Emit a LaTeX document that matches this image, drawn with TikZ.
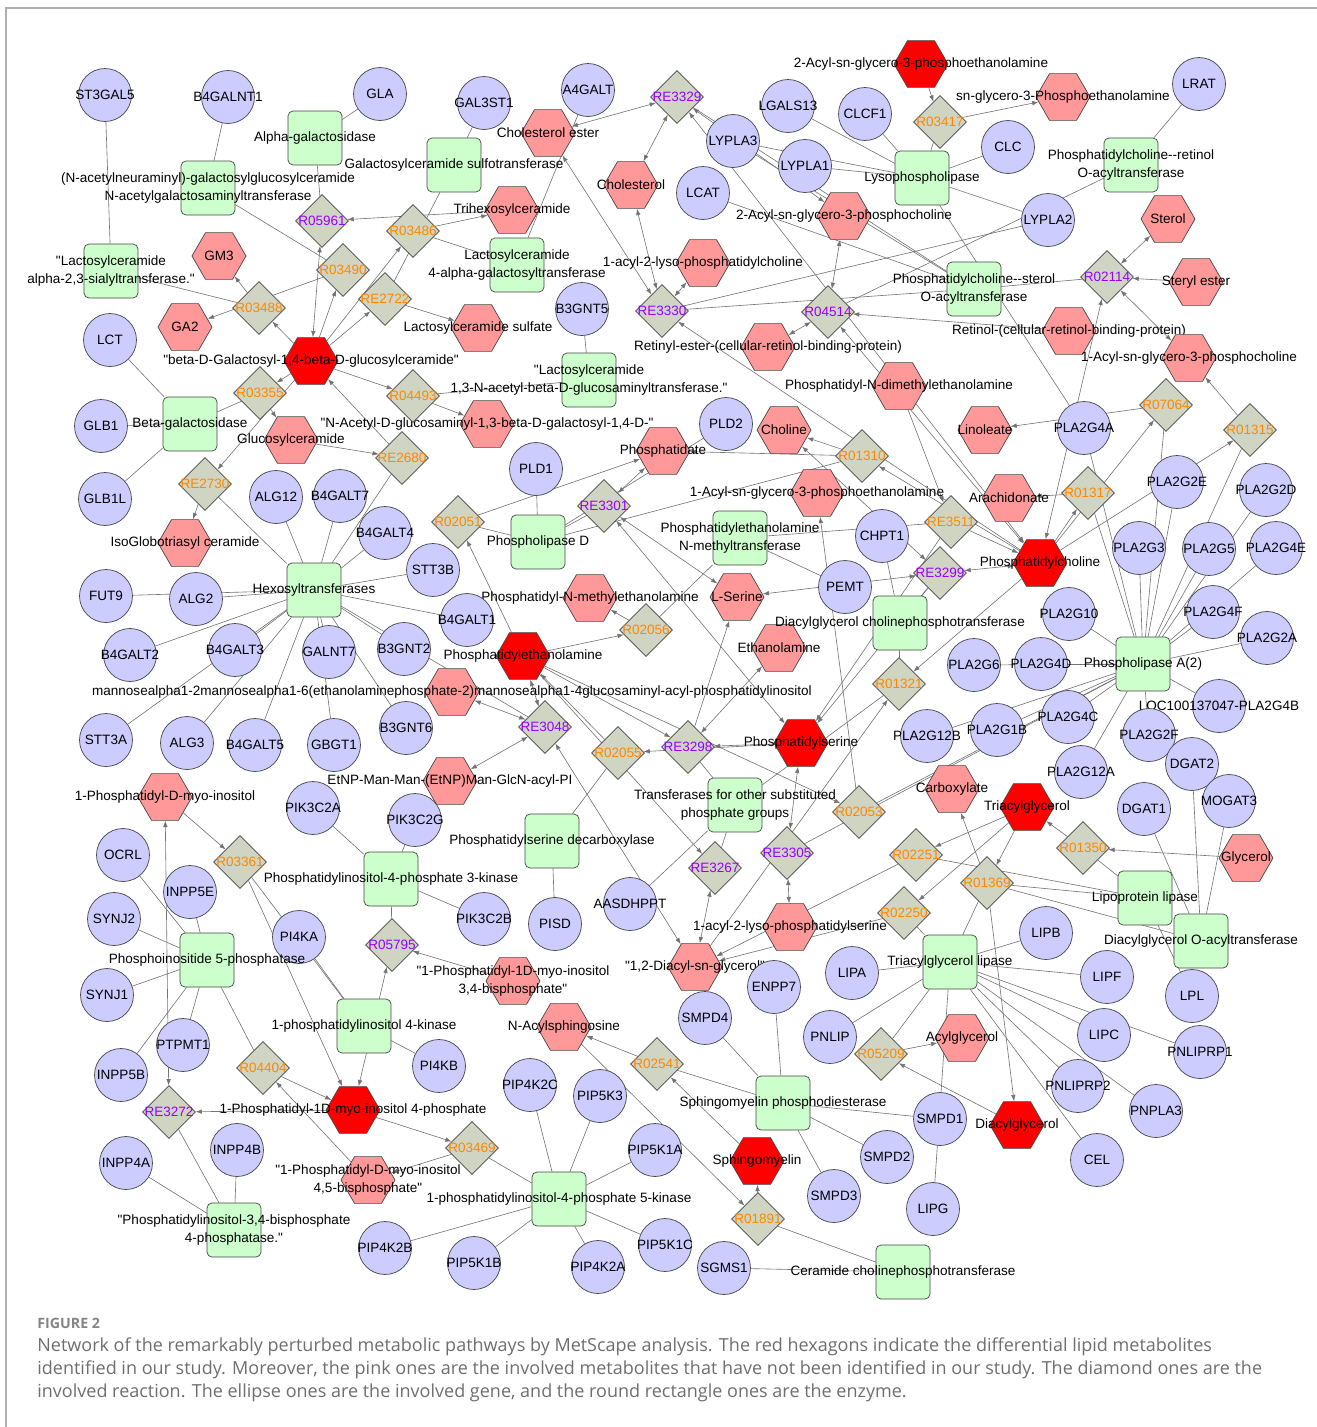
\documentclass[tikz,border=0pt]{standalone}
\usepackage{fontspec}
\newfontfamily\netfamily{Liberation Sans}
\newfontfamily\capfont{Open Sans}
\usetikzlibrary{shapes.geometric, arrows.meta, backgrounds}

\definecolor{genefill}{RGB}{204,204,255}
\definecolor{enzfill}{RGB}{204,255,204}
\definecolor{metfill}{RGB}{255,153,153}
\definecolor{hitred}{RGB}{255,0,0}
\definecolor{rxnfill}{RGB}{208,212,194}
\definecolor{bord}{RGB}{70,70,70}
\definecolor{linkgray}{RGB}{115,115,115}
\definecolor{rxorange}{RGB}{255,136,0}
\definecolor{rxviolet}{RGB}{153,0,255}
\definecolor{capgray}{RGB}{110,110,110}
\definecolor{framegray}{RGB}{175,175,175}

\newcommand\netfont{\netfamily\fontsize{7.7}{10.4}\selectfont}

\tikzset{
  every label/.style={font=\netfont, inner sep=0pt, align=center},
  gene/.style={circle, draw=bord, fill=genefill, line width=0.4pt, minimum size=1.06cm, inner sep=0pt, label={center:{#1}}},
  enz/.style={rectangle, rounded corners=0.1cm, draw=bord, fill=enzfill, line width=0.4pt, minimum size=1.08cm, inner sep=0pt, label={center:{#1}}},
  met/.style={regular polygon, regular polygon sides=6, draw=bord, fill=metfill, line width=0.4pt, minimum size=1.08cm, inner sep=0pt, label={center:{#1}}},
  hit/.style={met={#1}, fill=hitred},
  rxn/.style={diamond, draw=bord, fill=rxnfill, line width=0.4pt, minimum width=1.06cm, minimum height=1.06cm, inner sep=0pt},
  rxo/.style={rxn, label={[text=rxorange]center:#1}},
  rxv/.style={rxn, label={[text=rxviolet]center:#1}},
  link/.style={draw=linkgray, line width=0.35pt},
  flow/.style={link, -{Latex[length=3.6pt,width=2.6pt]}},
  both/.style={link, {Latex[length=3.6pt,width=2.6pt]}-{Latex[length=3.6pt,width=2.6pt]}},
}

\begin{document}
\begin{tikzpicture}[x=0.02cm, y=-0.02cm]
\useasboundingbox (0,0) rectangle (1317,1427);
\draw[framegray, line width=0.8pt] (6,1427) -- (6,8) -- (1317,8);

% metabolites
\node[hit={2-Acyl-sn-glycero-3-phosphoethanolamine}] (acylpe2) at (921,64) {};
\node[met={sn-glycero-3-Phosphoethanolamine}] (gpe) at (1063,97) {};
\node[met={Cholesterol ester}] (cholest) at (548,133) {};
\node[met={Cholesterol}] (chol) at (631,185) {};
\node[met={Trihexosylceramide}] (trihex) at (512,210) {};
\node[met={2-Acyl-sn-glycero-3-phosphocholine}] (acylpc2) at (844,216) {};
\node[met={Sterol}] (sterol) at (1168,219) {};
\node[met={GM3}] (gm3) at (219,256) {};
\node[met={1-acyl-2-lyso-phosphatidylcholine}] (lysopc) at (703,263) {};
\node[met={Lactosylceramide sulfate}] (lacsulf) at (478,328) {};
\node[met={GA2}] (ga2) at (185,327) {};
\node[met={Steryl ester}] (steryl) at (1196,282) {};
\node[met={Retinol-(cellular-retinol-binding-protein)}] (retinol) at (1069,331) {};
\node[met={Retinyl-ester-(cellular-retinol-binding-protein)}] (retinyl) at (768,347) {};
\node[met={1-Acyl-sn-glycero-3-phosphocholine}] (acylpc1) at (1189,358) {};
\node[hit={"beta-D-Galactosyl-1,4-beta-D-glucosylceramide"}] (lacc) at (311,361) {};
\node[met={Phosphatidyl-N-dimethylethanolamine}] (pdme) at (899,386) {};
\node[met={"N-Acetyl-D-glucosaminyl-1,3-beta-D-galactosyl-1,4-D-"}] (glcnac) at (487,424) {};
\node[met={Glucosylceramide}] (glccer) at (291,440) {};
\node[met={Linoleate}] (linol) at (985,430) {};
\node[met={Choline}] (choline) at (784,430) {};
\node[met={Phosphatidate}] (pa) at (663,451) {};
\node[met={1-Acyl-sn-glycero-3-phosphoethanolamine}] (acylpe1) at (817,493) {};
\node[met={Arachidonate}] (arach) at (1009,498) {};
\node[met={IsoGlobotriasyl ceramide}] (isogb3) at (185,543) {};
\node[hit={Phosphatidylcholine}] (pc) at (1040,563) {};
\node[met={Phosphatidyl-N-methylethanolamine}] (pme) at (590,598) {};
\node[met={L-Serine}] (serine) at (737,597) {};
\node[met={Ethanolamine}] (etn) at (779,648) {};
\node[hit={Phosphatidylethanolamine}] (pe) at (523,656) {};
\node[met={mannosealpha1-2mannosealpha1-6(ethanolaminephosphate-2)mannosealpha1-4glucosaminyl-acyl-phosphatidylinositol}] (gpi) at (452,692) {};
\node[hit={Phosphatidylserine}] (ps) at (801,743) {};
\node[met={EtNP-Man-Man-(EtNP)Man-GlcN-acyl-PI}] (etnp) at (450,781) {};
\node[met={1-Phosphatidyl-D-myo-inositol}] (pi) at (165,797) {};
\node[met={Carboxylate}] (carbox) at (952,789) {};
\node[hit={Triacylglycerol}] (tag) at (1027,807) {};
\node[met={Glycerol}] (glycerol) at (1246,858) {};
\node[met={1-acyl-2-lyso-phosphatidylserine}] (lysops) at (790,927) {};
\node[met={"1,2-Diacyl-sn-glycerol"}] (dag) at (695,967) {};
\node[met={"1-Phosphatidyl-1D-myo-inositol\\3,4-bisphosphate"}] (pip34) at (513,981) {};
\node[met={N-Acylsphingosine}] (cer) at (564,1027) {};
\node[met={Acylglycerol}] (acylgly) at (962,1038) {};
\node[hit={1-Phosphatidyl-1D-myo-inositol 4-phosphate}] (pi4ph) at (353,1110) {};
\node[hit={Sphingomyelin}] (sm) at (757,1161) {};
\node[hit={Diacylglycerol}] (dg) at (1017,1125) {};
\node[met={"1-Phosphatidyl-D-myo-inositol\\4,5-bisphosphate"}] (pip45) at (368,1180) {};

% genes
\node[gene=ST3GAL5] (st3gal5) at (105,95) {};
\node[gene=B4GALNT1] (b4galnt1) at (228,97) {};
\node[gene=GLA] (gla) at (380,94) {};
\node[gene=GAL3ST1] (gal3st1) at (484,103) {};
\node[gene=A4GALT] (a4galt) at (588,90) {};
\node[gene=LGALS13] (lgals13) at (788,106) {};
\node[gene=CLCF1] (clcf1) at (865,114) {};
\node[gene=LYPLA3] (lypla3) at (733,141) {};
\node[gene=LYPLA1] (lypla1) at (805,166) {};
\node[gene=LCAT] (lcat) at (703,193) {};
\node[gene=CLC] (clc) at (1008,147) {};
\node[gene=LRAT] (lrat) at (1199,84) {};
\node[gene=LYPLA2] (lypla2) at (1048,220) {};
\node[gene=LCT] (lct) at (110,340) {};
\node[gene=B3GNT5] (b3gnt5) at (582,309) {};
\node[gene=GLB1] (glb1) at (101,426) {};
\node[gene=GLB1L] (glb1l) at (105,499) {};
\node[gene=PLD2] (pld2) at (726,424) {};
\node[gene=PLD1] (pld1) at (536,469) {};
\node[gene=ALG12] (alg12) at (276,497) {};
\node[gene=B4GALT7] (b4galt7) at (340,496) {};
\node[gene=B4GALT4] (b4galt4) at (385,533) {};
\node[gene=STT3B] (stt3b) at (433,570) {};
\node[gene=FUT9] (fut9) at (106,596) {};
\node[gene=ALG2] (alg2) at (196,599) {};
\node[gene=B4GALT1] (b4galt1) at (467,620) {};
\node[gene=B4GALT2] (b4galt2) at (130,655) {};
\node[gene=B4GALT3] (b4galt3) at (235,650) {};
\node[gene=GALNT7] (galnt7) at (329,652) {};
\node[gene=B3GNT2] (b3gnt2) at (404,649) {};
\node[gene=CHPT1] (chpt1) at (882,536) {};
\node[gene=PEMT] (pemt) at (845,587) {};
\node[gene=PLA2G4A] (pla2g4a) at (1084,428) {};
\node[gene=PLA2G2E] (pla2g2e) at (1177,482) {};
\node[gene=PLA2G2D] (pla2g2d) at (1266,490) {};
\node[gene=PLA2G3] (pla2g3) at (1139,548) {};
\node[gene=PLA2G5] (pla2g5) at (1209,549) {};
\node[gene=PLA2G4E] (pla2g4e) at (1276,548) {};
\node[gene=PLA2G10] (pla2g10) at (1069,614) {};
\node[gene=PLA2G4F] (pla2g4f) at (1213,612) {};
\node[gene=PLA2G2A] (pla2g2a) at (1267,638) {};
\node[gene=PLA2G6] (pla2g6) at (974,665) {};
\node[gene=PLA2G4D] (pla2g4d) at (1041,664) {};
\node[gene=LOC100137047-PLA2G4B] (pla2g4b) at (1219,706) {};
\node[gene=PLA2G12B] (pla2g12b) at (927,736) {};
\node[gene=PLA2G1B] (pla2g1b) at (997,730) {};
\node[gene=PLA2G4C] (pla2g4c) at (1068,717) {};
\node[gene=PLA2G2F] (pla2g2f) at (1149,735) {};
\node[gene=PLA2G12A] (pla2g12a) at (1081,772) {};
\node[gene=DGAT2] (dgat2) at (1192,764) {};
\node[gene=DGAT1] (dgat1) at (1144,809) {};
\node[gene=MOGAT3] (mogat3) at (1229,801) {};
\node[gene=STT3A] (stt3a) at (106,740) {};
\node[gene=ALG3] (alg3) at (187,743) {};
\node[gene=B4GALT5] (b4galt5) at (255,745) {};
\node[gene=GBGT1] (gbgt1) at (334,745) {};
\node[gene=B3GNT6] (b3gnt6) at (406,728) {};
\node[gene=PIK3C2A] (pik3c2a) at (313,808) {};
\node[gene=PIK3C2G] (pik3c2g) at (415,820) {};
\node[gene=OCRL] (ocrl) at (123,855) {};
\node[gene=INPP5E] (inpp5e) at (190,892) {};
\node[gene=SYNJ2] (synj2) at (114,919) {};
\node[gene=SYNJ1] (synj1) at (107,995) {};
\node[gene=PI4KA] (pi4ka) at (299,937) {};
\node[gene=PIK3C2B] (pik3c2b) at (484,919) {};
\node[gene=PISD] (pisd) at (555,924) {};
\node[gene=AASDHPPT] (aasdhppt) at (630,904) {};
\node[gene=LIPB] (lipb) at (1046,933) {};
\node[gene=LIPA] (lipa) at (852,973) {};
\node[gene=LIPF] (lipf) at (1107,977) {};
\node[gene=LPL] (lpl) at (1192,996) {};
\node[gene=ENPP7] (enpp7) at (774,987) {};
\node[gene=SMPD4] (smpd4) at (705,1018) {};
\node[gene=PNLIP] (pnlip) at (830,1037) {};
\node[gene=LIPC] (lipc) at (1104,1035) {};
\node[gene=PNLIPRP1] (pnliprp1) at (1200,1052) {};
\node[gene=PTPMT1] (ptpmt1) at (183,1045) {};
\node[gene=INPP5B] (inpp5b) at (121,1075) {};
\node[gene=PI4KB] (pi4kb) at (439,1066) {};
\node[gene=PIP4K2C] (pip4k2c) at (530,1085) {};
\node[gene=PIP5K3] (pip5k3) at (600,1096) {};
\node[gene=PNLIPRP2] (pnliprp2) at (1078,1086) {};
\node[gene=PNPLA3] (pnpla3) at (1156,1111) {};
\node[gene=SMPD1] (smpd1) at (940,1119) {};
\node[gene=PIP5K1A] (pip5k1a) at (655,1150) {};
\node[gene=SMPD2] (smpd2) at (887,1157) {};
\node[gene=INPP4B] (inpp4b) at (237,1150) {};
\node[gene=INPP4A] (inpp4a) at (126,1163) {};
\node[gene=CEL] (cel) at (1097,1160) {};
\node[gene=SMPD3] (smpd3) at (834,1196) {};
\node[gene=LIPG] (lipg) at (933,1209) {};
\node[gene=PIP4K2B] (pip4k2b) at (385,1248) {};
\node[gene=PIP5K1B] (pip5k1b) at (474,1263) {};
\node[gene=PIP4K2A] (pip4k2a) at (598,1267) {};
\node[gene=PIP5K1C] (pip5k1c) at (665,1245) {};
\node[gene=SGMS1] (sgms1) at (724,1268) {};

% enzymes
\node[enz={Alpha-galactosidase}] (agal) at (315,138) {};
\node[enz={Galactosylceramide sulfotransferase}] (galsulf) at (454,165) {};
\node[enz={(N-acetylneuraminyl)-galactosylglucosylceramide\\N-acetylgalactosaminyltransferase}] (galnact) at (208,188) {};
\node[enz={"Lactosylceramide\\alpha-2,3-sialyltransferase."}] (siatr) at (111,271) {};
\node[enz={Lactosylceramide\\4-alpha-galactosyltransferase}] (lacgal) at (517,265) {};
\node[enz={Lysophospholipase}] (lysopl) at (922,178) {};
\node[enz={Phosphatidylcholine--retinol\\O-acyltransferase}] (pcrat) at (1131,165) {};
\node[enz={Phosphatidylcholine--sterol\\O-acyltransferase}] (pcsat) at (974,289) {};
\node[enz={"Lactosylceramide\\1,3-N-acetyl-beta-D-glucosaminyltransferase."}] (lacglc) at (589,380) {};
\node[enz={Beta-galactosidase}] (bgal) at (190,424) {};
\node[enz={Phospholipase D}] (pld) at (538,542) {};
\node[enz={Phosphatidylethanolamine\\N-methyltransferase}] (pemtase) at (740,538) {};
\node[enz={Hexosyltransferases}] (hexo) at (314,590) {};
\node[enz={Diacylglycerol cholinephosphotransferase}] (dgcpt) at (900,623) {};
\node[enz={Phospholipase A(2)}] (pla) at (1143,664) {};
\node[enz={Transferases for other substituted\\phosphate groups}] (trans) at (735,805) {};
\node[enz={Phosphatidylserine decarboxylase}] (psd) at (552,841) {};
\node[enz={Phosphatidylinositol-4-phosphate 3-kinase}] (pi3k) at (391,879) {};
\node[enz={Lipoprotein lipase}] (lpla) at (1145,898) {};
\node[enz={Diacylglycerol O-acyltransferase}] (dgat) at (1201,941) {};
\node[enz={Phosphoinositide 5-phosphatase}] (pi5p) at (207,960) {};
\node[enz={Triacylglycerol lipase}] (tgl) at (950,962) {};
\node[enz={1-phosphatidylinositol 4-kinase}] (pi4k) at (364,1026) {};
\node[enz={Sphingomyelin phosphodiesterase}] (smase) at (783,1103) {};
\node[enz={1-phosphatidylinositol-4-phosphate 5-kinase}] (pip5k) at (559,1199) {};
\node[enz={"Phosphatidylinositol-3,4-bisphosphate\\4-phosphatase."}] (pipase) at (234,1230) {};
\node[enz={Ceramide cholinephosphotransferase}] (cerpt) at (903,1272) {};

% reactions
\node[rxv=RE3329] (re3329) at (677,97) {};
\node[rxo=R03417] (r03417) at (940,122) {};
\node[rxv=R05961] (r05961) at (322,221) {};
\node[rxo=R03486] (r03486) at (413,231) {};
\node[rxo=R03490] (r03490) at (343,270) {};
\node[rxo=RE2722] (re2722) at (385,299) {};
\node[rxo=R03488] (r03488) at (259,308) {};
\node[rxv=RE3330] (re3330) at (662,311) {};
\node[rxv=R04514] (r04514) at (828,312) {};
\node[rxv=R02114] (r02114) at (1107,277) {};
\node[rxo=R03355] (r03355) at (260,393) {};
\node[rxo=R04493] (r04493) at (413,396) {};
\node[rxo=RE2680] (re2680) at (402,458) {};
\node[rxo=RE2730] (re2730) at (205,484) {};
\node[rxo=R07064] (r07064) at (1166,405) {};
\node[rxo=R01315] (r01315) at (1250,430) {};
\node[rxo=R01310] (r01310) at (862,456) {};
\node[rxo=R01317] (r01317) at (1088,493) {};
\node[rxo=RE3511] (re3511) at (951,522) {};
\node[rxo=R02051] (r02051) at (458,522) {};
\node[rxv=RE3301] (re3301) at (604,506) {};
\node[rxv=RE3299] (re3299) at (940,573) {};
\node[rxo=R02056] (r02056) at (646,630) {};
\node[rxo=R01321] (r01321) at (899,684) {};
\node[rxv=RE3048] (re3048) at (545,727) {};
\node[rxo=R02055] (r02055) at (618,753) {};
\node[rxv=RE3298] (re3298) at (688,747) {};
\node[rxo=R02053] (r02053) at (859,812) {};
\node[rxo=R03361] (r03361) at (240,862) {};
\node[rxv=RE3305] (re3305) at (787,853) {};
\node[rxv=RE3267] (re3267) at (715,868) {};
\node[rxo=R02251] (r02251) at (916,855) {};
\node[rxo=R01350] (r01350) at (1083,848) {};
\node[rxo=R01369] (r01369) at (987,883) {};
\node[rxo=R02250] (r02250) at (904,913) {};
\node[rxv=R05795] (r05795) at (392,945) {};
\node[rxo=R05209] (r05209) at (881,1054) {};
\node[rxo=R02541] (r02541) at (657,1064) {};
\node[rxo=R04404] (r04404) at (263,1068) {};
\node[rxv=RE3272] (re3272) at (169,1112) {};
\node[rxo=R03469] (r03469) at (472,1148) {};
\node[rxo=R01891] (r01891) at (758,1219) {};

\begin{scope}[on background layer]
% genes to enzymes
\draw[link] (st3gal5) -- (siatr);
\draw[link] (b4galnt1) -- (galnact);
\draw[link] (gla) -- (agal);
\draw[link] (gal3st1) -- (galsulf);
\draw[link] (a4galt) -- (lacgal);
\draw[link] (b3gnt5) -- (lacglc);
\foreach \g in {lct,glb1,glb1l} \draw[link] (\g) -- (bgal);
\foreach \g in {lgals13,clcf1,clc,lypla1,lypla3,lypla2,pla2g4a} \draw[link] (\g) -- (lysopl);
\draw[link] (lypla3) -- (pcsat);
\draw[link] (lcat) -- (pcsat);
\draw[link] (lrat) -- (pcrat);
\draw[link] (lypla2) -- (re3330);
\foreach \g in {pld1,pld2} \draw[link] (\g) -- (pld);
\foreach \g in {alg12,b4galt7,b4galt4,stt3b,fut9,alg2,b4galt1,b4galt2,b4galt3,galnt7,b3gnt2,stt3a,alg3,b4galt5,gbgt1,b3gnt6} \draw[link] (\g) -- (hexo);
\draw[link] (pemt) -- (pemtase);
\draw[link] (chpt1) -- (dgcpt);
\foreach \g in {pla2g4a,pla2g2e,pla2g2d,pla2g3,pla2g5,pla2g4e,pla2g10,pla2g4f,pla2g2a,pla2g6,pla2g4d,pla2g4b,pla2g12b,pla2g1b,pla2g4c,pla2g2f,pla2g12a} \draw[link] (\g) -- (pla);
\foreach \g in {dgat1,dgat2,mogat3} \draw[link] (\g) -- (dgat);
\draw[link] (lpl) -- (lpla);
\foreach \g in {lipb,lipf,lipa,pnlip,lipc,pnliprp1,pnliprp2,pnpla3,cel,lipg} \draw[link] (\g) -- (tgl);
\foreach \g in {smpd4,enpp7,smpd1,smpd2,smpd3} \draw[link] (\g) -- (smase);
\draw[link] (sgms1) -- (cerpt);
\foreach \g in {pik3c2a,pik3c2g,pik3c2b} \draw[link] (\g) -- (pi3k);
\foreach \g in {pi4ka,pi4kb} \draw[link] (\g) -- (pi4k);
\foreach \g in {ocrl,inpp5e,synj2,synj1,inpp5b,ptpmt1} \draw[link] (\g) -- (pi5p);
\foreach \g in {inpp4a,inpp4b} \draw[link] (\g) -- (pipase);
\foreach \g in {pip4k2c,pip5k3,pip5k1a,pip5k1b,pip4k2a,pip5k1c,pip4k2b} \draw[link] (\g) -- (pip5k);
\draw[link] (pisd) -- (psd);
\draw[link] (aasdhppt) -- (trans);

% enzymes to reactions
\draw[link] (agal) -- (r05961);
\draw[link] (galnact) -- (r03490);
\draw[link] (siatr) -- (r03488);
\draw[link] (galsulf) -- (re2722);
\draw[link] (lacgal) -- (r03486);
\draw[link] (lacglc) -- (r04493);
\draw[link] (bgal) -- (r03355);
\draw[link] (hexo) -- (re2680);
\draw[link] (hexo) -- (re2730);
\draw[link] (hexo) -- (re3048);
\draw[link] (lysopl) -- (r03417);
\draw[link] (pcrat) -- (r04514);
\draw[link] (pcsat) -- (re3329);
\draw[link] (pcsat) -- (re3330);
\draw[link] (pcsat) -- (r02114);
\draw[link] (pld) -- (r02051);
\draw[link] (pld) -- (re3301);
\draw[link] (pld) -- (r01310);
\draw[link] (pemtase) -- (r02056);
\draw[link] (pemtase) -- (re3511);
\draw[link] (dgcpt) -- (re3299);
\draw[link] (dgcpt) -- (r01321);
\foreach \r in {r07064,r01315,r01317,r02053,re3305} \draw[link] (pla) -- (\r);
\draw[link] (trans) -- (re3298);
\draw[link] (trans) -- (re3267);
\draw[link] (trans) -- (r01321);
\draw[link] (psd) -- (r02055);
\draw[link] (lpla) -- (r01350);
\draw[link] (lpla) -- (r01369);
\draw[link] (lpla) -- (r02251);
\draw[link] (dgat) -- (r01369);
\draw[link] (tgl) -- (r01369);
\draw[link] (tgl) -- (r02250);
\draw[link] (tgl) -- (r05209);
\draw[link] (smase) -- (r02541);
\draw[link] (cerpt) -- (r01891);
\draw[link] (pi3k) -- (r05795);
\draw[link] (pi4k) -- (r03361);
\draw[link] (pi5p) -- (r04404);
\draw[link] (pipase) -- (re3272);
\draw[link] (pip5k) -- (r03469);

% glycosphingolipids
\draw[flow] (trihex) -- (r05961);
\draw[both] (lacc) -- (r05961);
\draw[flow] (lacc) -- (r03486);
\draw[flow] (r03486) -- (trihex);
\draw[flow] (lacc) -- (r03490);
\draw[flow] (r03490) -- (ga2);
\draw[flow] (lacc) -- (r03488);
\draw[flow] (r03488) -- (gm3);
\draw[flow] (lacc) -- (re2722);
\draw[flow] (re2722) -- (lacsulf);
\draw[flow] (lacc) -- (r03355);
\draw[flow] (r03355) -- (glccer);
\draw[flow] (lacc) -- (r04493);
\draw[flow] (r04493) -- (glcnac);
\draw[flow] (glccer) -- (re2680);
\draw[flow] (re2680) -- (lacc);
\draw[flow] (lacc) -- (re2730);
\draw[flow] (re2730) -- (isogb3);

% cholesterol and retinol
\draw[both] (cholest) -- (re3329);
\draw[both] (chol) -- (re3329);
\draw[both] (chol) -- (re3330);
\draw[both] (cholest) -- (re3330);
\draw[both] (lysopc) -- (re3330);
\draw[both] (pc) -- (re3329);
\draw[both] (re3329) -- (acylpc2);
\draw[flow] (pc) -- (re3330);
\draw[flow] (acylpe2) -- (r03417);
\draw[flow] (r03417) -- (gpe);
\draw[flow] (retinol) -- (r04514);
\draw[both] (r04514) -- (retinyl);
\draw[both] (r04514) -- (acylpc2);
\draw[both] (pc) -- (r04514);
\draw[both] (sterol) -- (r02114);
\draw[flow] (steryl) -- (r02114);
\draw[both] (pc) -- (r02114);
\draw[both] (r02114) -- (acylpc1);

% phosphatidylcholine
\draw[flow] (r07064) -- (linol);
\draw[flow] (pc) -- (r07064);
\draw[flow] (r01315) -- (acylpc1);
\draw[flow] (pc) -- (r01315);
\draw[flow] (r01317) -- (arach);
\draw[flow] (pc) -- (r01317);
\draw[flow] (pe) -- (r02051);
\draw[flow] (r02051) -- (pa);
\draw[flow] (r01310) -- (pa);
\draw[flow] (r01310) -- (choline);
\draw[flow] (pc) -- (r01310);
\draw[both] (re3301) -- (pa);
\draw[both] (re3301) -- (serine);
\draw[both] (re3301) -- (ps);
\draw[flow] (pe) -- (r02056);
\draw[flow] (r02056) -- (pme);
\draw[flow] (pdme) -- (re3511);
\draw[flow] (re3511) -- (pc);
\draw[both] (pc) -- (re3299);
\draw[both] (choline) -- (re3299);
\draw[both] (re3299) -- (serine);
\draw[flow] (re3299) -- (ps);
\draw[flow] (re3511) -- (ps);
\draw[flow] (pc) -- (r01321);
\draw[flow] (dag) -- (r01321);

% ethanolamine and serine
\draw[both] (gpi) -- (re3048);
\draw[both] (re3048) -- (etnp);
\draw[both] (pe) -- (re3048);
\draw[both] (dag) -- (re3048);
\draw[flow] (r02055) -- (pe);
\draw[flow] (ps) -- (r02055);
\draw[flow] (ps) -- (re3298);
\draw[flow] (pe) -- (re3298);
\draw[flow] (re3298) -- (serine);
\draw[both] (etn) -- (re3298);
\draw[flow] (pe) -- (r02053);
\draw[flow] (r02053) -- (acylpe1);
\draw[flow] (pe) -- (re3267);
\draw[both] (re3267) -- (dag);
\draw[both] (ps) -- (re3305);
\draw[both] (re3305) -- (lysops);

% glycerolipids
\draw[flow] (tag) -- (r02251);
\draw[flow] (r02251) -- (dag);
\draw[flow] (tag) -- (r02250);
\draw[flow] (r02250) -- (dag);
\draw[flow] (tag) -- (r01369);
\draw[flow] (r01369) -- (carbox);
\draw[flow] (r01369) -- (dg);
\draw[flow] (glycerol) -- (r01350);
\draw[flow] (r01350) -- (tag);
\draw[flow] (dg) -- (r05209);
\draw[flow] (r05209) -- (acylgly);

% sphingomyelin
\draw[flow] (sm) -- (r02541);
\draw[flow] (r02541) -- (cer);
\draw[flow] (cer) -- (r01891);
\draw[flow] (r01891) -- (sm);

% inositol phosphates
\draw[flow] (pi) -- (r03361);
\draw[flow] (r03361) -- (pi4ph);
\draw[both] (pi) -- (re3272);
\draw[flow] (pi4ph) -- (re3272);
\draw[flow] (r04404) -- (pi4ph);
\draw[flow] (pip45) -- (r04404);
\draw[both] (pi4ph) -- (r05795);
\draw[flow] (pip34) -- (r05795);
\draw[flow] (pi4ph) -- (r03469);
\draw[flow] (r03469) -- (pip45);
\end{scope}

% caption
\node[anchor=west, inner sep=0pt, text=capgray!85, font=\capfont\bfseries\fontsize{8.1}{9}\selectfont] (fig) at (37,1323) {FIGURE 2};
\node[anchor=west, inner sep=0pt, text=capgray, font=\capfont\fontsize{10.25}{12}\selectfont] (cap1) at (37,1347) {Network of the remarkably perturbed metabolic pathways by MetScape analysis. The red hexagons indicate the differential lipid metabolites};
\node[anchor=west, inner sep=0pt, text=capgray, font=\capfont\fontsize{10.25}{12}\selectfont] (cap2) at (37,1370) {identified in our study. Moreover, the pink ones are the involved metabolites that have not been identified in our study. The diamond ones are the};
\node[anchor=west, inner sep=0pt, text=capgray, font=\capfont\fontsize{10.25}{12}\selectfont] (cap3) at (37,1393) {involved reaction. The ellipse ones are the involved gene, and the round rectangle ones are the enzyme.};
\end{tikzpicture}
\end{document}
